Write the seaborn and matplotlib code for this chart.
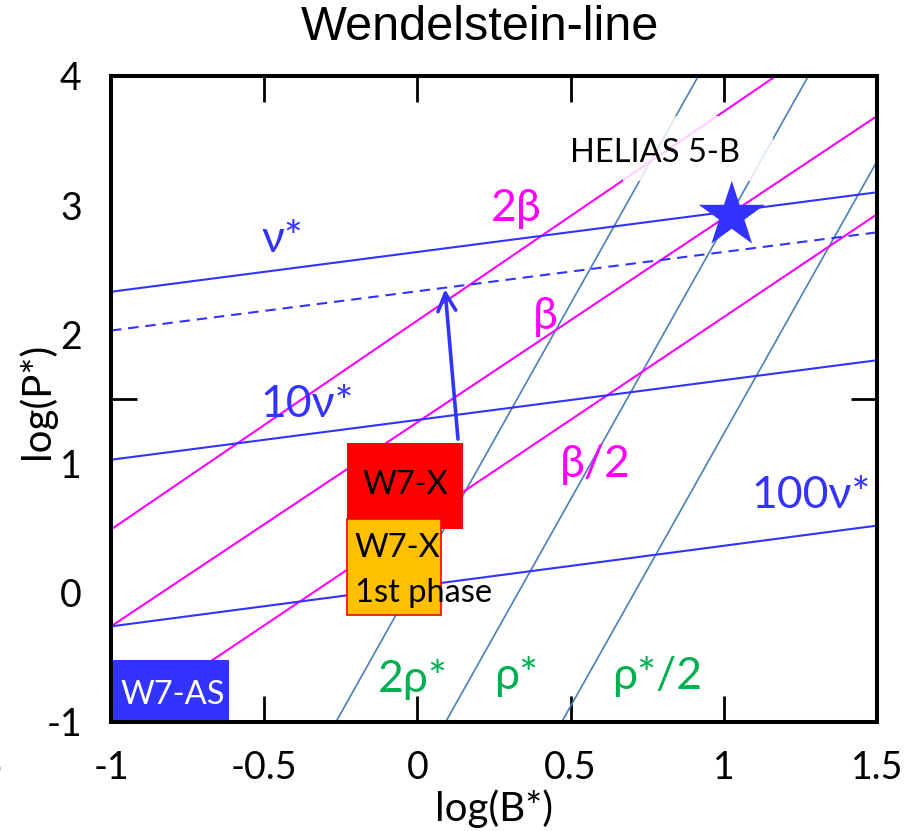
import matplotlib
matplotlib.use("Agg")
import matplotlib.pyplot as plt
from matplotlib.patches import Rectangle
import pandas as pd
import seaborn as sns

# ---------------- data (log space) ----------------
# collisionality lines (nu*)
nu_names = ["nu*", "nu* (target)", "10nu*", "100nu*"]
nu_x_start = [-1.0, -1.0, -1.0, -1.0]
nu_y_start = [2.33, 2.03, 1.03, -0.26]
nu_x_end = [1.5, 1.5, 1.5, 1.5]
nu_y_end = [3.10, 2.79, 1.80, 0.52]
nu_dashed = [False, True, False, False]

# beta lines
beta_names = ["2beta", "beta", "beta/2"]
beta_x_start = [-1.0, -1.0, -0.97]
beta_y_start = [0.49, -0.26, -1.0]
beta_x_end = [1.17, 1.5, 1.5]
beta_y_end = [4.0, 3.69, 2.93]

# normalized gyro-radius lines
rho_names = ["2rho*", "rho*", "rho*/2"]
rho_x_start = [-0.266, 0.092, 0.471]
rho_y_start = [-1.0, -1.0, -1.0]
rho_x_end = [0.917, 1.276, 1.5]
rho_y_end = [4.0, 4.0, 3.34]

# devices: (x0, y0, x1, y1)
dev_names = ["W7-X", "W7-X 1st phase", "W7-AS"]
dev_x0 = [-0.229, -0.230, -1.0]
dev_x1 = [0.149, 0.076, -0.614]
dev_y0 = [0.492, -0.173, -1.0]
dev_y1 = [1.156, 0.570, -0.522]

# HELIAS 5-B point
helias_x = [1.026]
helias_y = [2.92]

# arrow W7-X -> target
arrow_tail = (0.1325, 1.19)
arrow_tip = (0.090, 2.35)

xticks = [-1, -0.5, 0, 0.5, 1, 1.5]
xticklabels = ["-1", "-0.5", "0", "0.5", "1", "1.5"]
yticks = [-1, 0, 1, 2, 3, 4]
yticklabels = ["-1", "0", "1", "2", "3", "4"]
ytickmarks = [0, 1.5, 3]

BLUE = "#3333FF"
MAGENTA = "#FF00FF"
STEEL = "#4A7EBB"
GREEN = "#00B050"
RED = "#FF0000"
ORANGE = "#FFC000"

sns.set_style("white")
plt.rcParams["font.family"] = ["Lato", "DejaVu Sans"]
plt.rcParams["text.color"] = "black"
plt.rcParams["axes.labelcolor"] = "black"
plt.rcParams["xtick.color"] = "black"
plt.rcParams["ytick.color"] = "black"

fig = plt.figure(figsize=(9.21, 8.31), dpi=100)
ax = fig.add_axes([111 / 921, 1 - 722 / 831, 766 / 921, 646 / 831])

# lines
for i in range(len(rho_names)):
    sns.lineplot(x=[rho_x_start[i], rho_x_end[i]], y=[rho_y_start[i], rho_y_end[i]],
                 color=STEEL, lw=1.2, ax=ax, estimator=None, sort=False, zorder=2)
for i in range(len(beta_names)):
    sns.lineplot(x=[beta_x_start[i], beta_x_end[i]], y=[beta_y_start[i], beta_y_end[i]],
                 color=MAGENTA, lw=1.5, ax=ax, estimator=None, sort=False, zorder=2)
for i in range(len(nu_names)):
    sns.lineplot(x=[nu_x_start[i], nu_x_end[i]], y=[nu_y_start[i], nu_y_end[i]],
                 color=BLUE, lw=1.5, ax=ax, estimator=None, sort=False, zorder=2)
    if nu_dashed[i]:
        ax.lines[-1].set_dashes((5, 3.3))

# star
sns.scatterplot(x=helias_x, y=helias_y, marker="*", s=50 ** 2, color=BLUE,
                edgecolor="none", ax=ax, zorder=4)

# pale overlay behind HELIAS label
ax.add_patch(Rectangle((0.671, 3.186), 0.49, 0.503, facecolor="white",
                       edgecolor="none", alpha=0.82, zorder=5))

# device boxes
ax.add_patch(Rectangle((dev_x0[0], dev_y0[0]), dev_x1[0] - dev_x0[0], dev_y1[0] - dev_y0[0],
                       facecolor=RED, edgecolor="none", zorder=6))
ax.add_patch(Rectangle((dev_x0[1], dev_y0[1]), dev_x1[1] - dev_x0[1], dev_y1[1] - dev_y0[1],
                       facecolor=ORANGE, edgecolor=RED, lw=1.2, zorder=7))
ax.add_patch(Rectangle((dev_x0[2], dev_y0[2]), dev_x1[2] - dev_x0[2], dev_y1[2] - dev_y0[2],
                       facecolor=BLUE, edgecolor="none", zorder=6, clip_on=False))

# arrow
ax.annotate("", xy=arrow_tip, xytext=arrow_tail,
            arrowprops=dict(arrowstyle="->", color=BLUE, lw=2.6, mutation_scale=32,
                            shrinkA=0, shrinkB=0), zorder=8)

# labels
lab = dict(ha="center", va="baseline", fontsize=32, zorder=9)
ax.text(-0.439, 2.64, "ν*", color=BLUE, **lab)
ax.text(-0.360, 1.359, "10ν*", color=BLUE, **lab)
ax.text(1.2846, 0.655, "100ν*", color=BLUE, **lab)
ax.text(0.322, 2.876, "2β", color=MAGENTA, **lab)
ax.text(0.416, 2.04, "β", color=MAGENTA, **lab)
ax.text(0.580, 0.895, "β/2", color=MAGENTA, **lab)
ax.text(-0.014, -0.769, "2ρ*", color=GREEN, **lab)
ax.text(0.322, -0.746, "ρ*", color=GREEN, **lab)
ax.text(0.782, -0.746, "ρ*/2", color=GREEN, **lab)

small = dict(va="baseline", fontsize=23.5, zorder=9)
ax.text(0.7755, 3.335, "HELIAS 5-B", color="black", ha="center", **small)
ax.text(-0.0405, 0.763, "W7-X", color="black", ha="center", **small)
ax.text(-0.2037, 0.2755, "W7-X", color="black", ha="left", **small)
ax.text(-0.2037, -0.0728, "1st phase", color="black", ha="left", **small)
ax.text(-0.9706, -0.862, "W7-AS", color="white", ha="left", **small)

# axes styling
ax.set_xlim(-1, 1.5)
ax.set_ylim(-1, 4)
ax.set_xticks(xticks)
ax.set_xticklabels(xticklabels)
ax.set_yticks(yticks)
ax.set_yticklabels(yticklabels)
ax.set_yticks(ytickmarks, minor=True)
ax.tick_params(axis="x", which="major", direction="in", length=19, width=2,
               top=True, bottom=True, labelsize=27, pad=20, color="black")
ax.tick_params(axis="y", which="major", length=0, labelsize=27, pad=21)
ax.tick_params(axis="y", which="minor", direction="in", length=19, width=2,
               left=True, right=True, color="black")
for s in ax.spines.values():
    s.set_color("black")
    s.set_linewidth(2.9)
    s.set_zorder(10)

ax.set_xlabel("log(B*)", fontsize=29)
ax.xaxis.set_label_coords(0.5, (722 - 809) / 646)
ax.xaxis.label.set_va("center")
ax.set_ylabel("log(P*)", fontsize=29)
ax.yaxis.set_label_coords((37 - 111) / 766, (722 - 401) / 646)
ax.yaxis.label.set_va("center")
ax.yaxis.label.set_ha("center")

fig.text(480 / 921, 1 - 28 / 831, "Wendelstein-line", fontsize=35, color="black",
         family=["Liberation Sans", "DejaVu Sans"], ha="center", va="center")
fig.text(3 / 921, 1 - 767 / 831, "5", fontsize=27, ha="right", va="center")

fig.savefig("out.png", dpi=100)
